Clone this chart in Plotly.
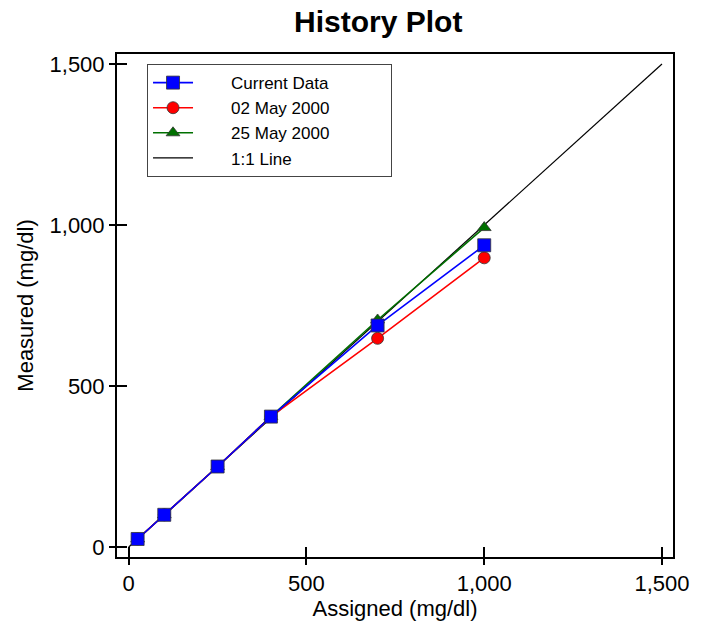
import plotly.graph_objects as go

# Assigned concentrations (mg/dl)
assigned = [25, 100, 250, 400, 700, 1000]

# Measured values per run
current_data = [25, 100, 250, 405, 688, 937]
may02_2000 = [25, 100, 250, 405, 648, 898]
may25_2000 = [25, 100, 250, 405, 705, 992]

# Identity reference
line_11 = [0, 1500]

tick_vals = [0, 500, 1000, 1500]
font_family = "Liberation Sans, Arial, sans-serif"

PAD_L = "\u00a0" * 7
PAD_R = "\u00a0" * 12

fig = go.Figure()

fig.add_trace(go.Scatter(
    x=line_11, y=line_11, mode="lines", name=PAD_L + "1:1 Line",
    line=dict(color="black", width=1.2), legendrank=4,
))
fig.add_trace(go.Scatter(
    x=assigned, y=may25_2000, mode="lines+markers", name=PAD_L + "25 May 2000",
    line=dict(color="#007000", width=1.6),
    marker=dict(symbol="triangle-up", size=12, color="#007000",
                line=dict(color="#333333", width=0.8)),
    legendrank=3,
))
fig.add_trace(go.Scatter(
    x=assigned, y=may02_2000, mode="lines+markers", name=PAD_L + "02 May 2000",
    line=dict(color="#ff0000", width=1.6),
    marker=dict(symbol="circle", size=12, color="#ff0000",
                line=dict(color="#333333", width=0.8)),
    legendrank=2,
))
fig.add_trace(go.Scatter(
    x=assigned, y=current_data, mode="lines+markers",
    name=PAD_L + "Current Data" + PAD_R,
    line=dict(color="#0000ff", width=1.6),
    marker=dict(symbol="square", size=13, color="#0000ff",
                line=dict(color="#333333", width=0.8)),
    legendrank=1,
))

axis_common = dict(
    tickvals=tick_vals, tickformat=",d", showgrid=False, zeroline=False,
    showline=True, linecolor="black", linewidth=2, mirror=True,
    ticks="outside", ticklen=6, tickwidth=2, tickcolor="black",
    tickfont=dict(size=22, color="black", family=font_family),
    minor=dict(dtick=125, ticks="inside", ticklen=2, tickwidth=1,
               tickcolor="white"),
)

fig.update_xaxes(
    range=[-33, 1531],
    title=dict(text="Assigned (mg/dl)", standoff=4,
               font=dict(size=22, color="black", family=font_family)),
    **axis_common,
)
fig.update_yaxes(
    range=[-31, 1531],
    title=dict(text="Measured (mg/dl)", standoff=10,
               font=dict(size=22, color="black", family=font_family)),
    **axis_common,
)

# Inside halves of the crossing tick marks
inner = dict(tickvals=tick_vals, showticklabels=False, showgrid=False,
             zeroline=False, showline=False, ticks="inside", ticklen=10,
             tickwidth=2, tickcolor="black")
fig.update_layout(
    xaxis2=dict(overlaying="x", matches="x", anchor="y", side="bottom", **inner),
    yaxis2=dict(overlaying="y", matches="y", anchor="x", side="left", **inner),
)
fig.add_trace(go.Scatter(x=[None], y=[None], xaxis="x2", yaxis="y2",
                         showlegend=False, hoverinfo="skip"))

fig.update_layout(
    width=711, height=628,
    margin=dict(l=117, r=38, t=54, b=65),
    paper_bgcolor="white", plot_bgcolor="white",
    font=dict(family=font_family, color="black"),
    title=dict(text="<b>History Plot</b>", x=0.532, xanchor="center",
               y=0.966, yanchor="middle",
               font=dict(size=30, color="black", family=font_family)),
    legend=dict(x=0.054, y=0.98, xanchor="left", yanchor="top",
                bgcolor="white", bordercolor="#444444", borderwidth=1,
                font=dict(size=17, color="black", family=font_family),
                tracegroupgap=0, itemwidth=40,
                traceorder="normal"),
    showlegend=True,
)

fig.write_html("out.html")
